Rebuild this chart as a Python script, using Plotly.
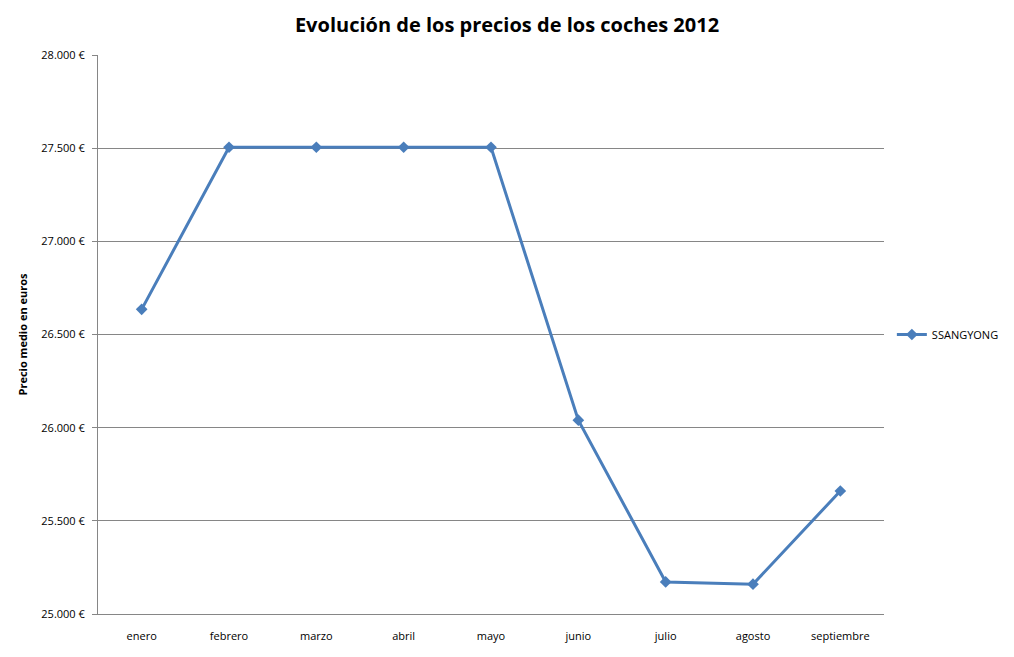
import plotly.graph_objects as go

months = ["enero", "febrero", "marzo", "abril", "mayo", "junio", "julio", "agosto", "septiembre"]
prices = [26635, 27505, 27505, 27505, 27505, 26040, 25172, 25160, 25660]
y_ticks = [25000, 25500, 26000, 26500, 27000, 27500, 28000]
y_labels = ["25.000 €", "25.500 €", "26.000 €", "26.500 €", "27.000 €", "27.500 €", "28.000 €"]

fig = go.Figure()
fig.add_trace(go.Scatter(
    x=months, y=prices, name="SSANGYONG", mode="lines+markers",
    line=dict(color="#4A7EBB", width=3),
    marker=dict(symbol="diamond", size=9, color="#4A7EBB"),
))

font = "Open Sans, DejaVu Sans, sans-serif"
fig.update_layout(
    width=1014, height=657,
    margin=dict(l=98, r=130, t=55, b=43, autoexpand=False),
    paper_bgcolor="white", plot_bgcolor="white",
    font=dict(family=font, size=11, color="black"),
    title=dict(text="<b>Evolución de los precios de los coches 2012</b>",
               x=0.5, xref="container", xanchor="center", y=0.962, yanchor="middle",
               font=dict(size=20, family=font, color="black")),
    xaxis=dict(type="category", range=[-0.5, 8.5], showgrid=False,
               showline=True, linecolor="#868686", linewidth=1, mirror=False,
               ticks="", tickfont=dict(size=11), ticklabelstandoff=12),
    yaxis=dict(range=[25000, 28000], tickvals=y_ticks, ticktext=y_labels,
               showgrid=True, gridcolor="#868686", gridwidth=1,
               showline=True, linecolor="#868686", linewidth=1,
               ticks="outside", ticklen=5, tickcolor="#868686",
               tickfont=dict(size=11), zeroline=False, ticklabelstandoff=5,
               title=dict(text="<b>Precio medio en euros</b>", font=dict(size=11), standoff=11)),
    showlegend=True,
    legend=dict(x=1.01, y=0.5, xanchor="left", yanchor="middle",
                font=dict(size=11), bgcolor="rgba(0,0,0,0)"),
)

fig.write_html("out.html", config={"displayModeBar": False},
               post_script="document.body.style.margin='0px';")
